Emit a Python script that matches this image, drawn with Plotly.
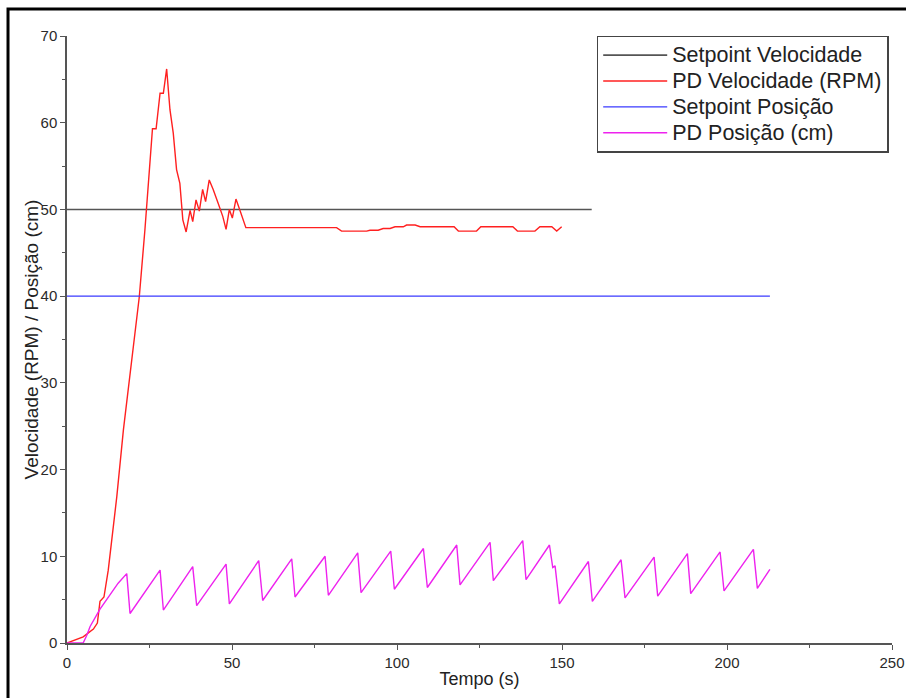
import plotly.graph_objects as go

# Setpoints (constant references)
sp_vel_t = [0, 159]
sp_vel_v = [50, 50]
sp_pos_t = [0, 213]
sp_pos_v = [40, 40]

# PD speed response (RPM)
vel_t = [0, 2, 4.9, 8, 9.2, 10, 11.2, 12.5, 15.1, 17.1, 19.5, 21.9, 23.6, 24.1, 25.9, 27,
         28.2, 29.2, 30.2, 31.2, 32.2, 33.2, 34.2, 35.1, 36.1, 37.3, 38.1, 39.1, 40.1,
         41.1, 42, 43.1, 44.3, 45.8, 47.2, 48.2, 49.2, 50.1, 51.2, 52.4, 54.2, 81.7,
         83.2, 90.8, 91.8, 94.3, 95.8, 97.9, 99.4, 101.9, 102.9, 105.5, 107, 117.3,
         118.6, 124.1, 125.4, 135.1, 136.5, 141.8, 143.3, 146.9, 148.4, 149.9]
vel_v = [0, 0.3, 0.7, 1.6, 2.3, 4.8, 5.3, 8.4, 16.9, 24.6, 32.3, 39.9, 47.6, 50.3, 59.3, 59.3,
         63.4, 63.4, 66.2, 61.5, 58.8, 54.6, 53.0, 48.8, 47.4, 49.9, 48.6, 51.1, 49.8,
         52.3, 50.9, 53.4, 52.3, 50.7, 49.2, 47.7, 50.0, 49.0, 51.2, 49.9, 47.9, 47.9,
         47.5, 47.5, 47.6, 47.6, 47.8, 47.8, 48.0, 48.0, 48.2, 48.2, 48.0, 48.0,
         47.5, 47.5, 48.0, 48.0, 47.5, 47.5, 48.0, 48.0, 47.5, 48.0]

# PD position response (cm)
pos_t = [0, 4.9, 6, 7, 10, 13, 15.5, 18.1, 19.1, 28.2, 29.2, 38.1, 39.3, 48.2, 49.2, 58.1,
         59.3, 68.1, 69.1, 78.2, 79.2, 88.1, 89.1, 98.1, 99.2, 108, 109.2, 118.1, 119.1,
         128.2, 129.2, 138.1, 139.1, 146.2, 147.2, 147.9, 149.2, 158, 159.2, 167.9, 169.1,
         177.9, 179, 188, 189, 197.9, 199.1, 208, 209.2, 213]
pos_v = [0, 0, 0.9, 1.9, 3.9, 5.6, 6.9, 8.0, 3.4, 8.4, 3.8, 8.8, 4.3, 9.1, 4.5, 9.5,
         4.9, 9.7, 5.3, 10.0, 5.5, 10.4, 5.8, 10.6, 6.2, 10.9, 6.4, 11.3, 6.7,
         11.6, 7.2, 11.8, 7.3, 11.3, 8.7, 8.9, 4.5, 9.4, 4.8, 9.6, 5.2,
         9.9, 5.4, 10.3, 5.7, 10.5, 6.0, 10.8, 6.3, 8.5]

series_names = ["Setpoint Velocidade", "PD Velocidade (RPM)", "Setpoint Posição", "PD Posição (cm)"]

FONT = "Liberation Sans, Arial, sans-serif"


def big(label):
    # legend labels use a larger glyph size than the row spacing implies
    return f"<span style='font-size:21.5px'>{label}</span>"


fig = go.Figure()
fig.add_trace(go.Scatter(x=sp_vel_t, y=sp_vel_v, mode="lines", name=big(series_names[0]),
                         line=dict(color="#555555", width=1.6)))
fig.add_trace(go.Scatter(x=vel_t, y=vel_v, mode="lines", name=big(series_names[1]),
                         line=dict(color="#ff2020", width=1.4)))
fig.add_trace(go.Scatter(x=sp_pos_t, y=sp_pos_v, mode="lines", name=big(series_names[2]),
                         line=dict(color="#3a3aff", width=1.4)))
fig.add_trace(go.Scatter(x=pos_t, y=pos_v, mode="lines", name=big(series_names[3]),
                         line=dict(color="#ee22ee", width=1.4)))

axis_common = dict(
    showgrid=False, zeroline=False, showline=True, linecolor="#555555", linewidth=1.5,
    ticks="outside", ticklen=5, tickwidth=1.2, tickcolor="#555555", automargin=False,
    tickfont=dict(family=FONT, size=15, color="#2a2a2a"),
)

fig.update_xaxes(
    range=[0, 250], tickvals=[0, 50, 100, 150, 200, 250],
    minor=dict(ticks="outside", ticklen=3, dtick=25, tick0=0, tickcolor="#555555"),
    title=dict(text="Tempo (s)", font=dict(family=FONT, size=18, color="#222222"), standoff=3),
    **axis_common,
)
fig.update_yaxes(
    range=[0, 70], tickvals=[0, 10, 20, 30, 40, 50, 60, 70],
    minor=dict(ticks="outside", ticklen=3, dtick=5, tick0=0, tickcolor="#555555"),
    **axis_common,
)

fig.update_layout(
    width=906, height=698,
    margin=dict(l=67, r=14, t=36, b=55),
    plot_bgcolor="white", paper_bgcolor="white",
    showlegend=True,
    legend=dict(x=0.996, y=1.0005, xanchor="right", yanchor="top", itemwidth=64,
                font=dict(family=FONT, size=17.6, color="#222222"),
                bgcolor="white", bordercolor="#444444", borderwidth=1.5),
    annotations=[dict(text="Velocidade (RPM) / Posição (cm)", textangle=-90,
                      xref="paper", yref="paper", x=-0.0425, y=0.5,
                      xanchor="center", yanchor="middle", showarrow=False,
                      font=dict(family=FONT, size=19, color="#222222"))],
    shapes=[dict(type="rect", xref="paper", yref="paper",
                 x0=-0.0715, x1=1.06, y0=-0.12, y1=1.0445,
                 line=dict(color="black", width=3), fillcolor="rgba(0,0,0,0)", layer="below")],
)

fig.write_html("out.html")
